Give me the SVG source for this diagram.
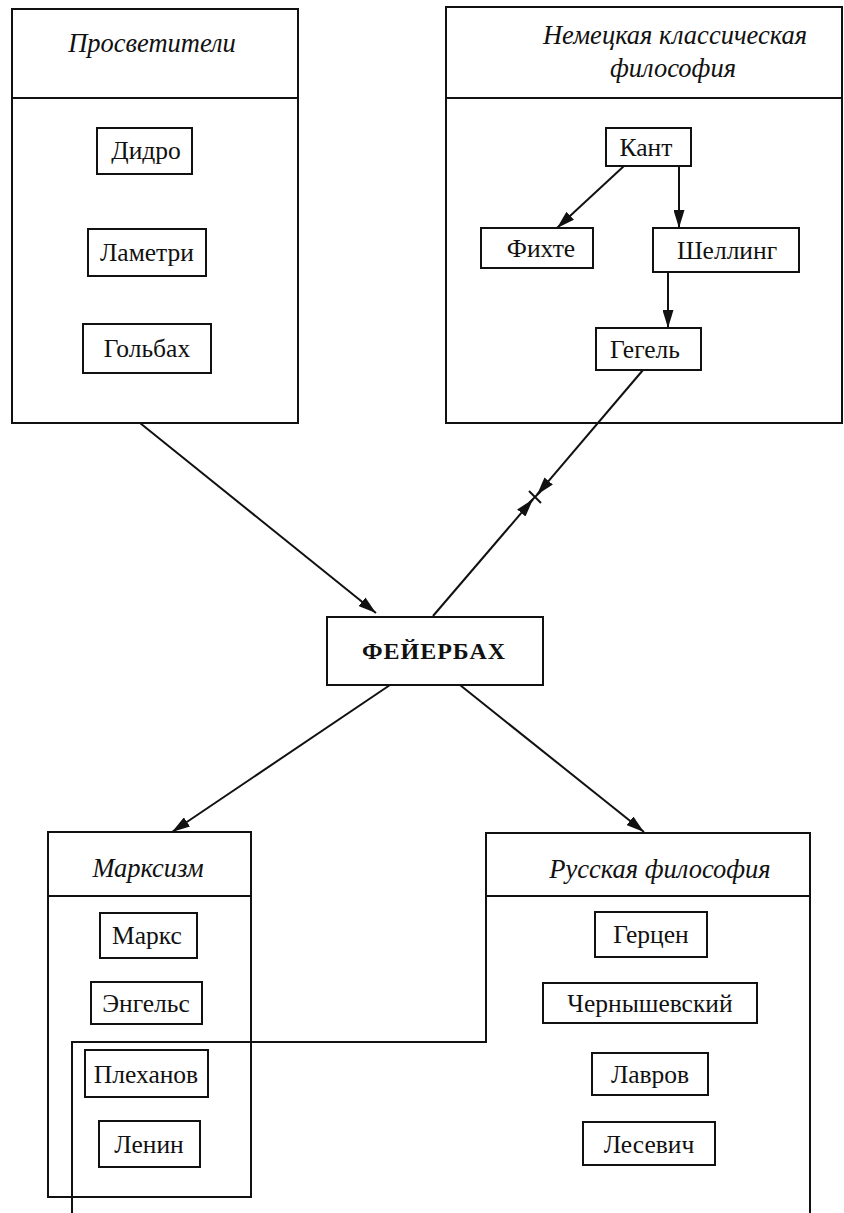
<svg xmlns="http://www.w3.org/2000/svg" width="844" height="1213" viewBox="0 0 844 1213">
<style>
.frame{fill:none;stroke:#111;stroke-width:2}
.box{fill:#fff;stroke:#111;stroke-width:2}
.lbl{font-family:'Liberation Serif','Times New Roman',serif;font-size:25.5px;text-anchor:middle;fill:#111}
.ttl{font-family:'Liberation Serif','Times New Roman',serif;font-size:26.5px;font-style:italic;text-anchor:middle;fill:#111}
.big{font-family:'Liberation Serif','Times New Roman',serif;font-size:24px;font-weight:bold;letter-spacing:1px;text-anchor:middle;fill:#111}
.conn{fill:none;stroke:#111;stroke-width:2}
</style>
<defs>
<marker id="arr" viewBox="0 0 18 11" refX="18" refY="5.5" markerWidth="18" markerHeight="11" markerUnits="userSpaceOnUse" orient="auto">
<path d="M0,0 L18,5.5 L0,11 z" fill="#111"/>
</marker>
</defs>
<rect width="844" height="1213" fill="#fff"/>

<g id="prosvetiteli">
<rect class="frame" x="12" y="9" width="286" height="414"/>
<line class="frame" x1="12" y1="98" x2="298" y2="98"/>
<text class="ttl" x="152" y="52">Просветители</text>
</g>
<g id="didro"><rect class="box" x="97" y="128" width="95" height="46"/><text class="lbl" x="146" y="159">Дидро</text></g>
<g id="lametri"><rect class="box" x="88" y="229" width="118" height="47"/><text class="lbl" x="147" y="261">Ламетри</text></g>
<g id="golbah"><rect class="box" x="83" y="324" width="128" height="49"/><text class="lbl" x="147" y="357">Гольбах</text></g>

<g id="german">
<rect class="frame" x="446" y="7" width="396" height="416"/>
<line class="frame" x1="446" y1="98" x2="842" y2="98"/>
<text class="ttl" x="675" y="44">Немецкая классическая</text>
<text class="ttl" x="673" y="77">философия</text>
</g>
<g id="kant"><rect class="box" x="606" y="128" width="85" height="38"/><text class="lbl" x="646" y="156">Кант</text></g>
<g id="fichte"><rect class="box" x="481" y="228" width="112" height="40"/><text class="lbl" x="541" y="257">Фихте</text></g>
<g id="schelling"><rect class="box" x="653" y="228" width="146" height="44"/><text class="lbl" x="727" y="259">Шеллинг</text></g>
<g id="hegel"><rect class="box" x="596" y="328" width="105" height="42"/><text class="lbl" x="645" y="358">Гегель</text></g>

<g id="feuerbach"><rect class="box" x="327" y="617" width="216" height="68"/><text class="big" x="434" y="659">ФЕЙЕРБАХ</text></g>

<g id="marxism">
<rect class="frame" x="48" y="832" width="203" height="365"/>
<line class="frame" x1="48" y1="896" x2="251" y2="896"/>
<text class="ttl" x="148" y="877">Марксизм</text>
</g>
<g id="marx"><rect class="box" x="100" y="913" width="97" height="45"/><text class="lbl" x="147" y="944">Маркс</text></g>
<g id="engels"><rect class="box" x="91" y="982" width="111" height="42"/><text class="lbl" x="146" y="1012">Энгельс</text></g>
<g id="plekhanov"><rect class="box" x="85" y="1050" width="123" height="47"/><text class="lbl" x="146" y="1083">Плеханов</text></g>
<g id="lenin"><rect class="box" x="99" y="1121" width="101" height="46"/><text class="lbl" x="149" y="1153">Ленин</text></g>

<g id="russian">
<polyline class="frame" points="72,1213 72,1042 486,1042 486,833 810,833 810,1213"/>
<line class="frame" x1="486" y1="896" x2="810" y2="896"/>
<text class="ttl" x="660" y="878">Русская философия</text>
</g>
<g id="herzen"><rect class="box" x="595" y="912" width="112" height="45"/><text class="lbl" x="651" y="943">Герцен</text></g>
<g id="chernyshevsky"><rect class="box" x="543" y="983" width="214" height="40"/><text class="lbl" x="650" y="1012">Чернышевский</text></g>
<g id="lavrov"><rect class="box" x="592" y="1053" width="116" height="42"/><text class="lbl" x="650" y="1083">Лавров</text></g>
<g id="lesevich"><rect class="box" x="583" y="1122" width="132" height="43"/><text class="lbl" x="649" y="1153">Лесевич</text></g>

<g id="connectors">
<line class="conn" x1="140" y1="423" x2="376" y2="613" marker-end="url(#arr)"/>
<line class="conn" x1="624" y1="166" x2="557" y2="228" marker-end="url(#arr)"/>
<line class="conn" x1="679" y1="166" x2="679" y2="228" marker-end="url(#arr)"/>
<line class="conn" x1="668" y1="272" x2="668" y2="328" marker-end="url(#arr)"/>
<line class="conn" x1="643" y1="370" x2="537" y2="494.7" marker-end="url(#arr)"/>
<line class="conn" x1="433" y1="616" x2="533" y2="499.3" marker-end="url(#arr)"/>
<line class="conn" x1="529" y1="491" x2="541" y2="503"/>
<line class="conn" x1="529" y1="503" x2="541" y2="491"/>
<line class="conn" x1="390" y1="685" x2="172" y2="832" marker-end="url(#arr)"/>
<line class="conn" x1="460" y1="685" x2="644" y2="832" marker-end="url(#arr)"/>
</g>
</svg>
